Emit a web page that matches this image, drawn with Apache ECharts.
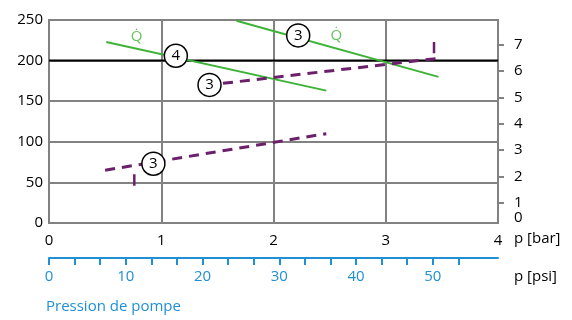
<!DOCTYPE html>
<html>
<head>
<meta charset="utf-8">
<script src="https://cdn.jsdelivr.net/npm/echarts@6/dist/echarts.min.js"></script>
<style>html,body{margin:0;padding:0;background:#fff}#c{width:572px;height:320px}</style>
</head>
<body>
<div id="c"></div>
<script>
// ---- data ----
const barTicks = [0, 1, 2, 3, 4];
const leftTicks = [0, 50, 100, 150, 200, 250];
const rightTicks = [1, 2, 3, 4, 5, 6, 7];
const rightZeroLabel = '0';
const psiTicks = [0, 3.33, 6.67, 10, 13.33, 16.67, 20, 23.33, 26.67, 30, 33.33, 36.67, 40, 43.33, 46.67, 50, 53.33];
const psiLabels = [0, 10, 20, 30, 40, 50];

const qLowerBar = [0.51, 2.47];
const qLowerVal = [223, 163];
const qUpperBar = [1.67, 3.47];
const qUpperVal = [249, 180];
const pUpperBar = [1.55, 3.48];
const pUpperVal = [172, 203];
const pLowerBar = [0.50, 2.47];
const pLowerVal = [65, 110];
const limUpperBar = [3.43, 3.43];
const limUpperVal = [209, 223];
const limLowerBar = [0.76, 0.76];
const limLowerVal = [46, 60];
const refLevel = 200;

const markerNames = ['4', '3', '3', '3'];
const markerBar = [1.13, 2.22, 1.43, 0.93];
const markerVal = [206, 231, 170, 73];
const qLabelBar = [0.78, 2.56];
const qLabelVal = [229, 231];

// ---- styling ----
const FONT = 'Open Sans';
const GRAY = '#828282';
const GREEN = '#3db337';
const PURPLE = '#6c1f6a';
const BLUE = '#1f8fd6';
const zip = (a, b) => a.map((v, i) => [v, b[i]]);

const chart = echarts.init(document.getElementById('c'), null, {renderer: 'canvas'});
chart.setOption({
  animation: false,
  textStyle: {fontFamily: FONT},
  grid: [
    {left: 49, right: 74, top: 20, bottom: 97, show: true, borderColor: GRAY, borderWidth: 2},
    // helper grid for the right-hand scale ticks 1..7
    {left: 49, right: 74, top: 20, bottom: 117.3, show: false}
  ],
  xAxis: [{
    gridIndex: 0, type: 'value', min: barTicks[0], max: barTicks[barTicks.length - 1], interval: 1,
    position: 'bottom',
    axisLine: {show: true, onZero: false, lineStyle: {color: GRAY, width: 2}},
    axisTick: {show: false},
    splitLine: {show: true, lineStyle: {color: GRAY, width: 2}},
    axisLabel: {color: '#000', fontSize: 15, margin: 10, fontFamily: FONT}
  }, {
    gridIndex: 0, type: 'value', min: 0, max: 58.5,
    position: 'bottom', offset: 35,
    axisLine: {show: true, onZero: false, lineStyle: {color: BLUE, width: 2}},
    axisTick: {show: true, length: 7, lineStyle: {color: BLUE, width: 2}, customValues: psiTicks},
    splitLine: {show: false},
    axisLabel: {color: BLUE, fontSize: 15, margin: 11, fontFamily: FONT, customValues: psiLabels}
  }, {
    gridIndex: 1, type: 'value', min: 0, max: 4, show: false
  }],
  yAxis: [{
    gridIndex: 0, type: 'value', min: leftTicks[0], max: leftTicks[leftTicks.length - 1], interval: 50,
    axisLine: {show: true, onZero: false, lineStyle: {color: GRAY, width: 2}},
    axisTick: {show: false},
    splitLine: {show: true, lineStyle: {color: GRAY, width: 2}},
    axisLabel: {color: '#000', fontSize: 15, margin: 6, fontFamily: FONT}
  }, {
    gridIndex: 0, type: 'value', min: 0.229, max: 7.94, position: 'right',
    axisLine: {show: true, onZero: false, lineStyle: {color: GRAY, width: 2}},
    axisTick: {show: false},
    splitLine: {show: false},
    axisLabel: {
      color: '#000', fontSize: 15, margin: 16, fontFamily: FONT,
      customValues: [0.229],
      formatter: () => '{z|' + rightZeroLabel + '}',
      rich: {z: {fontSize: 15, fontFamily: FONT, color: '#000', padding: [0, 0, 10, 0]}}
    }
  }, {
    gridIndex: 1, type: 'value', position: 'right',
    min: rightTicks[0], max: 7.94, interval: 1,
    axisLine: {show: false, onZero: false},
    axisTick: {show: true, length: 6, lineStyle: {color: GRAY, width: 2}},
    splitLine: {show: false},
    axisLabel: {color: '#000', fontSize: 15, margin: 16, fontFamily: FONT, showMaxLabel: false,
      formatter: v => (v % 1 === 0 ? String(v) : '')}
  }],
  graphic: [
    {type: 'text', left: 514, top: 231, style: {text: 'p [bar]', fill: '#000', font: '15px "Open Sans"'}},
    {type: 'text', left: 514, top: 269, style: {text: 'p [psi]', fill: '#000', font: '15px "Open Sans"'}},
    {type: 'text', left: 46, top: 299, style: {text: 'Pression de pompe', fill: BLUE, font: '15px "Open Sans"'}}
  ],
  series: [
    {type: 'line', data: [[barTicks[0], refLevel], [barTicks[barTicks.length - 1], refLevel]], symbol: 'none',
      lineStyle: {color: '#000', width: 2}, z: 3},
    {type: 'line', data: zip(qLowerBar, qLowerVal), symbol: 'none', lineStyle: {color: GREEN, width: 2}, z: 4},
    {type: 'line', data: zip(qUpperBar, qUpperVal), symbol: 'none', lineStyle: {color: GREEN, width: 2}, z: 4},
    {type: 'line', data: zip(pUpperBar, pUpperVal), symbol: 'none', lineStyle: {color: PURPLE, width: 3, type: [10, 7]}, z: 4},
    {type: 'line', data: zip(pLowerBar, pLowerVal), symbol: 'none', lineStyle: {color: PURPLE, width: 3, type: [10, 7]}, z: 4},
    {type: 'line', data: zip(limUpperBar, limUpperVal), symbol: 'none', lineStyle: {color: PURPLE, width: 2.5}, z: 4},
    {type: 'line', data: zip(limLowerBar, limLowerVal), symbol: 'none', lineStyle: {color: PURPLE, width: 2.5}, z: 4},
    {type: 'scatter', z: 6, symbol: 'circle', symbolSize: 23,
      data: markerBar.map((b, i) => ({value: [b, markerVal[i]], name: markerNames[i]})),
      itemStyle: {color: '#fff', borderColor: '#000', borderWidth: 1.5, opacity: 1},
      label: {show: true, position: 'inside', formatter: p => p.name, color: '#000', fontSize: 15, fontFamily: FONT}},
    {type: 'scatter', z: 6, symbol: 'circle', symbolSize: 1,
      data: qLabelBar.map((b, i) => [b, qLabelVal[i]]),
      itemStyle: {color: 'rgba(0,0,0,0)'},
      label: {show: true, position: 'inside', formatter: 'Q\u0307', color: GREEN, fontSize: 15, fontFamily: FONT}}
  ]
});
</script>
</body>
</html>
